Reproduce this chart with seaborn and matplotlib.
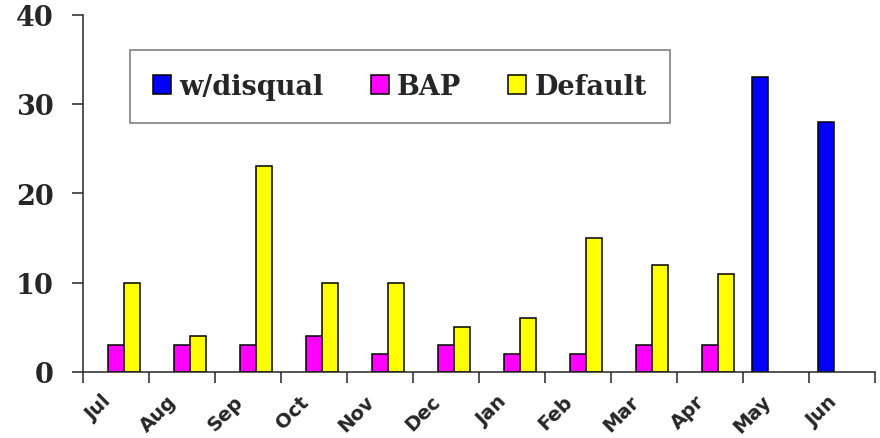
import numpy as np
import pandas as pd
import matplotlib
matplotlib.use("Agg")
import matplotlib.pyplot as plt
import matplotlib.transforms as mtransforms
import seaborn as sns

# datos
months = ['Jul', 'Aug', 'Sep', 'Oct', 'Nov', 'Dec', 'Jan', 'Feb', 'Mar', 'Apr', 'May', 'Jun']
disqual = [None] * 10 + [33, 28]
bap = [3, 3, 3, 4, 2, 3, 2, 2, 3, 3, None, None]
default = [10, 4, 23, 10, 10, 5, 6, 15, 12, 11, None, None]
series = ['w/disqual', 'BAP', 'Default']
colors = {'w/disqual': '#0000FF', 'BAP': '#FF00FF', 'Default': '#FFFF00'}

rows = []
for name, vals in zip(series, [disqual, bap, default]):
    for m, v in zip(months, vals):
        if v is not None:
            rows.append({'month': m, 'serie': name, 'value': v})
df = pd.DataFrame(rows)

sns.set_style("ticks")

fig = plt.figure(figsize=(8.8, 4.39), dpi=100)
ax = fig.add_axes([83 / 880, 66 / 439, 792 / 880, 357.5 / 439])

sns.barplot(data=df, x='month', y='value', hue='serie', order=months,
            hue_order=series, palette=colors, width=0.73, dodge=True,
            edgecolor='black', linewidth=1.1, saturation=1, ax=ax)

ax.set_xlim(-0.5, 11.5)
ax.set_ylim(0, 40)
ax.set_yticks([0, 10, 20, 30, 40])
ax.set_xlabel('')
ax.set_ylabel('')
sns.despine(ax=ax)
for s in ['left', 'bottom']:
    ax.spines[s].set_linewidth(1.1)

# ticks del eje y
ax.tick_params(axis='y', length=8, width=1.1, pad=13)
for lab in ax.get_yticklabels():
    lab.set_fontfamily('DejaVu Serif')
    lab.set_fontweight('bold')
    lab.set_fontsize(19.5)

# etiquetas del eje x en centros, marcas en los bordes
ax.set_xticks(np.arange(len(months)))
ax.set_xticks(np.arange(len(months) + 1) - 0.5, minor=True)
ax.tick_params(axis='x', which='major', length=0, pad=14)
ax.tick_params(axis='x', which='minor', length=8, width=1.1, direction='out')
ax.set_xticklabels(months, rotation=45, ha='right', va='top', rotation_mode='anchor',
                   fontfamily='DejaVu Sans', fontweight='bold', fontsize=14)
shift = mtransforms.ScaledTranslation(-15 / 100, 0, fig.dpi_scale_trans)
for lab in ax.get_xticklabels():
    lab.set_transform(lab.get_transform() + shift)

handles, labels = ax.get_legend_handles_labels()
leg = ax.legend(handles, labels, ncol=3, loc='upper left',
                bbox_to_anchor=(47 / 792, 1 - 35.5 / 357.5),
                frameon=True, fancybox=False, edgecolor='#555555',
                prop={'family': 'DejaVu Serif', 'weight': 'bold', 'size': 19.5},
                handlelength=0.66, handleheight=0.66, handletextpad=0.3,
                columnspacing=1.75, borderpad=0.85, borderaxespad=0)
leg.get_frame().set_linewidth(1.1)

plt.savefig('out.png', dpi=100)
plt.close()
